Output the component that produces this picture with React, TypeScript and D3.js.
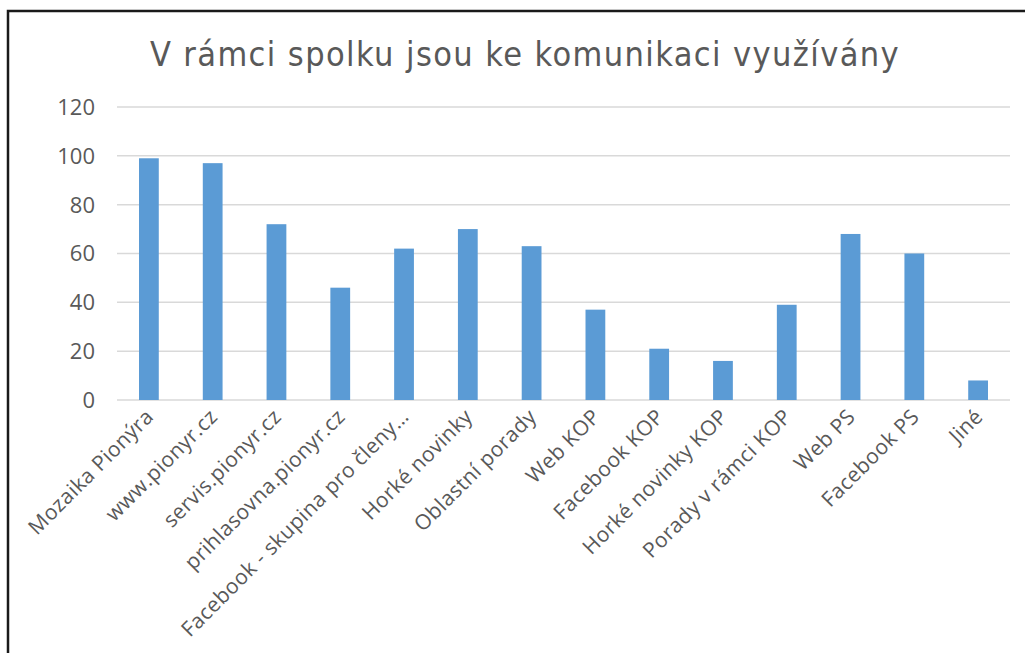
import React from "react";
import * as d3 from "d3";

const title = "V rámci spolku jsou ke komunikaci využívány";
const categories = [
  "Mozaika Pionýra",
  "www.pionyr.cz",
  "servis.pionyr.cz",
  "prihlasovna.pionyr.cz",
  "Facebook - skupina pro členy…",
  "Horké novinky",
  "Oblastní porady",
  "Web KOP",
  "Facebook KOP",
  "Horké novinky KOP",
  "Porady v rámci KOP",
  "Web PS",
  "Facebook PS",
  "Jiné",
];
const values = [99, 97, 72, 46, 62, 70, 63, 37, 21, 16, 39, 68, 60, 8];
const yTicks = [0, 20, 40, 60, 80, 100, 120];

const W = 1025;
const H = 653;

export default function App() {
  const ref = React.useRef<SVGSVGElement>(null);

  React.useEffect(() => {
    const svg = d3.select(ref.current);
    svg.selectAll("*").remove();

    const left = 117, right = 1010, top = 107, bottom = 400;
    const x = d3.scaleBand().domain(categories).range([left, right]).padding(0);
    const y = d3.scaleLinear().domain([0, 120]).range([bottom, top]);
    const barW = x.bandwidth() * 0.31;

    // frame (only top and left edges are inside the picture)
    svg.append("rect")
      .attr("x", 8).attr("y", 11)
      .attr("width", W + 20).attr("height", H + 20)
      .attr("fill", "#fff")
      .attr("stroke", "#1a1a1a")
      .attr("stroke-width", 2.5);

    svg.append("text")
      .attr("x", 525).attr("y", 66)
      .attr("text-anchor", "middle")
      .attr("font-family", "'DejaVu Sans Condensed', 'DejaVu Sans'")
      .attr("font-size", 34)
      .attr("letter-spacing", 1.4)
      .attr("fill", "#595959")
      .text(title);

    // gridlines + y labels
    const g = svg.append("g");
    g.selectAll("line.grid")
      .data(yTicks)
      .enter().append("line")
      .attr("x1", left).attr("x2", right)
      .attr("y1", (d) => y(d)).attr("y2", (d) => y(d))
      .attr("stroke", "#d9d9d9")
      .attr("stroke-width", 1.5);

    g.selectAll("text.ytick")
      .data(yTicks)
      .enter().append("text")
      .attr("x", 95)
      .attr("y", (d) => y(d))
      .attr("dy", "0.36em")
      .attr("text-anchor", "end")
      .attr("font-family", "'Open Sans'")
      .attr("font-size", 22)
      .attr("fill", "#595959")
      .text((d) => d);

    svg.selectAll("rect.bar")
      .data(values)
      .enter().append("rect")
      .attr("x", (d, i) => x(categories[i])! + (x.bandwidth() - barW) / 2)
      .attr("y", (d) => y(d))
      .attr("width", barW)
      .attr("height", (d) => bottom - y(d))
      .attr("fill", "#5b9bd5");

    svg.selectAll("text.xlab")
      .data(categories)
      .enter().append("text")
      .attr("text-anchor", "end")
      .attr("transform", (d) => {
        const cx = x(d)! + x.bandwidth() / 2 + 6;
        return `translate(${cx},${bottom + 18}) rotate(-45)`;
      })
      .attr("font-family", "'Open Sans'")
      .attr("font-size", 21)
      .attr("letter-spacing", 0.4)
      .attr("fill", "#595959")
      .text((d) => d);
  }, []);

  return (
    <svg
      ref={ref}
      width={W}
      height={H}
      style={{ position: "absolute", left: 0, top: 0, background: "#fff" }}
    />
  );
}
